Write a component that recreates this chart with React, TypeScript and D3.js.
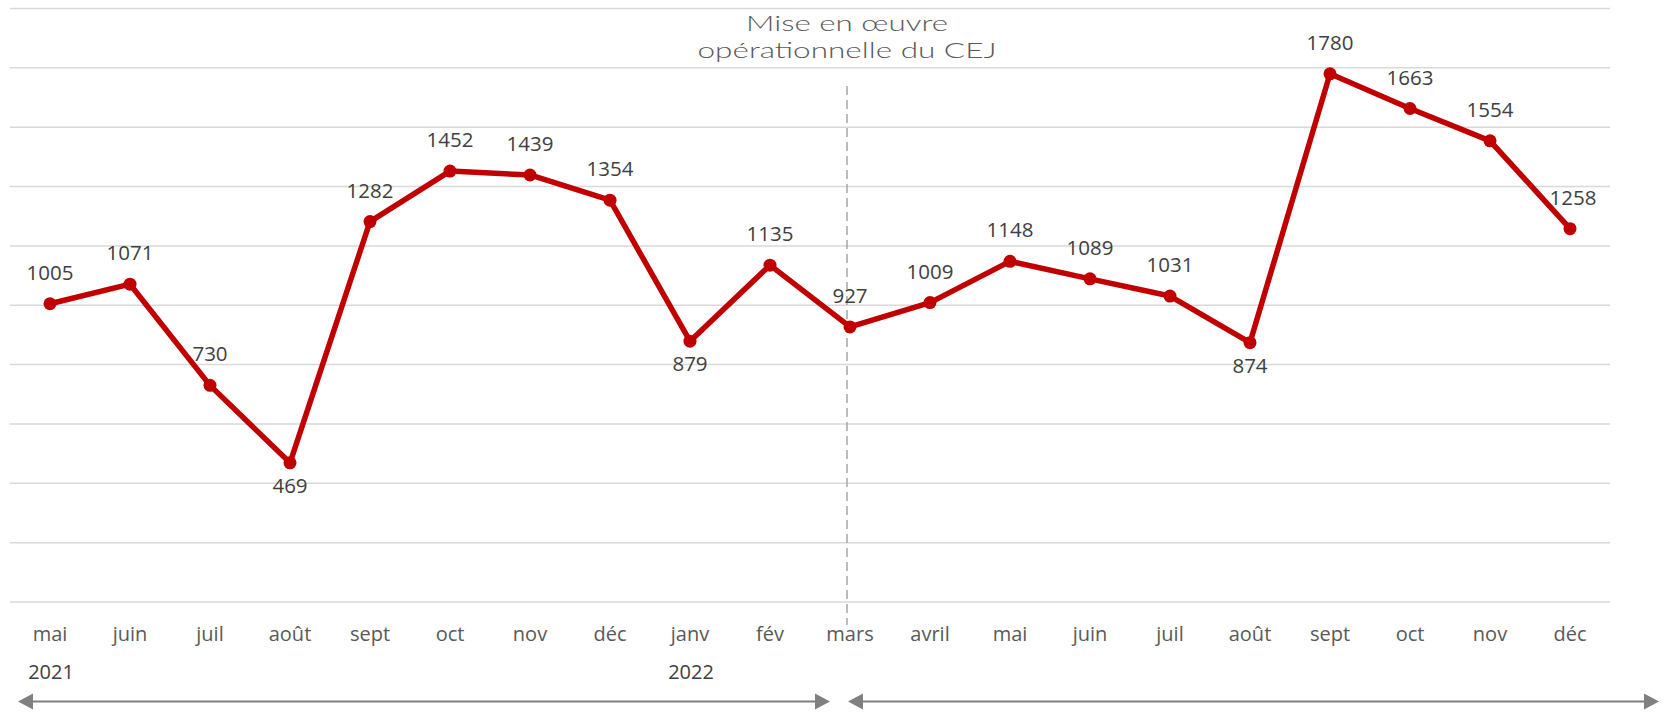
import React from "react";
import * as d3 from "d3";

const months = ["mai","juin","juil","août","sept","oct","nov","déc","janv","fév","mars","avril","mai","juin","juil","août","sept","oct","nov","déc"];
const values = [1005,1071,730,469,1282,1452,1439,1354,879,1135,927,1009,1148,1089,1031,874,1780,1663,1554,1258];
const yearLabels = [{ index: 0, text: "2021" }, { index: 8, text: "2022" }];
const yTicks = [0,200,400,600,800,1000,1200,1400,1600,1800,2000];
const belowLabelIdx = new Set([3, 8, 15]);
const cejIndex = 10;
const annotationLines = ["Mise en œuvre", "opérationnelle du CEJ"];

const W = 1665, H = 713;
const RED = "#c00000";

export default function App() {
  const keys = months.map((_, i) => String(i));
  const x = d3.scaleBand<string>().domain(keys).range([10, 1610]);
  const cx = (i: number) => (x(String(i)) as number) + x.bandwidth() / 2;
  const y = d3.scaleLinear().domain([0, 2000]).range([602, 8.5]);
  const line = d3.line<number>().x((_, i) => cx(i)).y((d) => y(d));
  const dashX = cx(cejIndex) - 3;
  const arrowY = 701.5;
  const arrows = [
    { x1: cx(0) - 32, x2: dashX - 17 },
    { x1: dashX + 1, x2: cx(months.length - 1) + 89 },
  ];
  const head = (tipX: number, dir: number) => {
    const L = 15, h = 8;
    return `M${tipX},${arrowY} L${tipX - dir * L},${arrowY - h} L${tipX - dir * L},${arrowY + h} Z`;
  };
  const labelFont = "'Open Sans', 'Noto Sans', sans-serif";
  return (
    <svg width={W} height={H} style={{ position: "absolute", left: 0, top: 0, background: "#fff" }}>
      {yTicks.map((t) => (
        <line key={t} x1={10} x2={1610} y1={y(t)} y2={y(t)} stroke="#d9d9d9" strokeWidth={1.5} />
      ))}
      <line x1={dashX} x2={dashX} y1={86} y2={625} stroke="#a6a6a6" strokeWidth={1.5} strokeDasharray="9,5" />
      {annotationLines.map((t, i) => (
        <text key={t} x={dashX} y={31 + i * 27} textAnchor="middle" fontFamily="Lato, 'Open Sans', sans-serif" fontWeight={300}
          fontSize={22} fill="#595959" textLength={i === 0 ? 202 : 299} lengthAdjust="spacingAndGlyphs">{t}</text>
      ))}
      <path d={line(values) || ""} fill="none" stroke={RED} strokeWidth={5.5} strokeLinejoin="round" />
      {values.map((v, i) => (
        <circle key={i} cx={cx(i)} cy={y(v)} r={6.5} fill={RED} />
      ))}
      {values.map((v, i) => (
        <text key={"l" + i} x={cx(i) + (i === values.length - 1 ? 3 : 0)} y={belowLabelIdx.has(i) ? y(v) + 30 : y(v) - 24}
          textAnchor="middle" fontFamily={labelFont} fontSize={20.5} fill="#404040">{v}</text>
      ))}
      {months.map((m, i) => (
        <text key={"m" + i} x={cx(i)} y={641} textAnchor="middle" fontFamily={labelFont} fontSize={20} fill="#595959">{m}</text>
      ))}
      {yearLabels.map((yl) => (
        <text key={yl.text} x={cx(yl.index) + 1} y={679} textAnchor="middle" fontFamily={labelFont} fontSize={20} fill="#404040">{yl.text}</text>
      ))}
      {arrows.map((a, i) => (
        <g key={"a" + i}>
          <line x1={a.x1 + 10} x2={a.x2 - 10} y1={arrowY} y2={arrowY} stroke="#808080" strokeWidth={2} />
          <path d={head(a.x1, -1)} fill="#808080" />
          <path d={head(a.x2, 1)} fill="#808080" />
        </g>
      ))}
    </svg>
  );
}
